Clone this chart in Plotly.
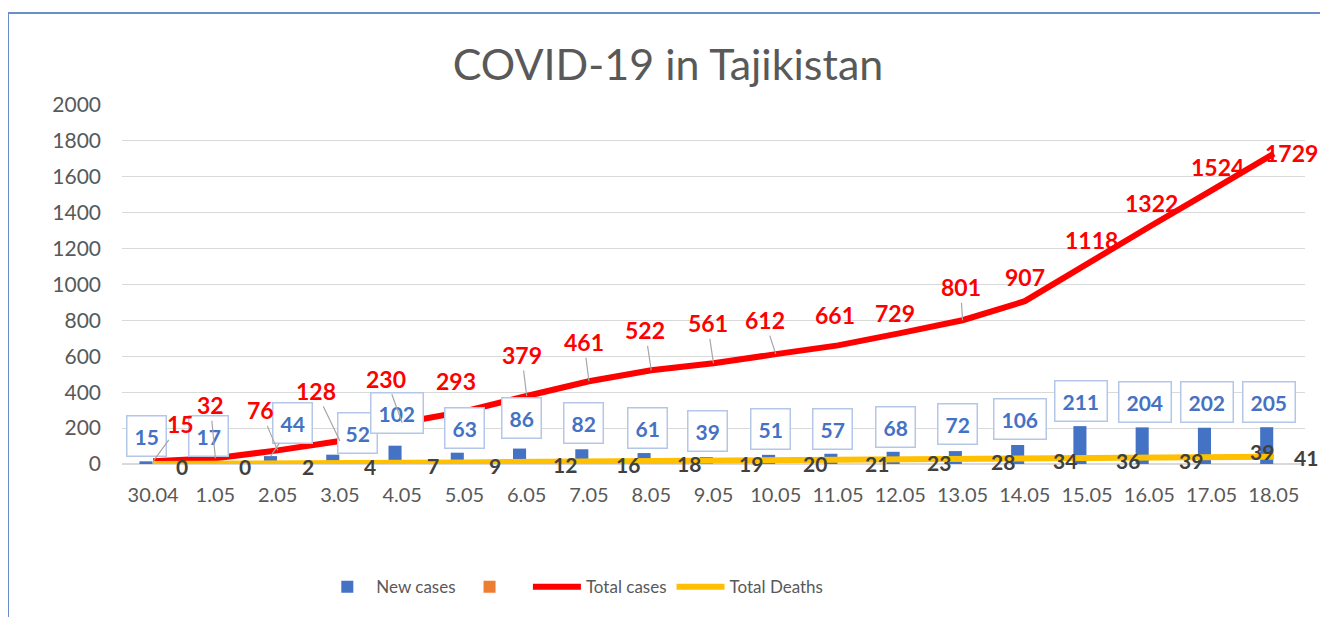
import plotly.graph_objects as go

# ---- data ----
dates = ["30.04", "1.05", "2.05", "3.05", "4.05", "5.05", "6.05", "7.05", "8.05", "9.05",
         "10.05", "11.05", "12.05", "13.05", "14.05", "15.05", "16.05", "17.05", "18.05"]
new_cases = [15, 17, 44, 52, 102, 63, 86, 82, 61, 39, 51, 57, 68, 72, 106, 211, 204, 202, 205]
total_cases = [15, 32, 76, 128, 230, 293, 379, 461, 522, 561, 612, 661, 729, 801, 907,
               1118, 1322, 1524, 1729]
total_deaths = [0, 0, 2, 4, 7, 9, 12, 16, 18, 19, 20, 21, 23, 28, 34, 36, 39, 39, 41]
unnamed_series = [None] * len(dates)   # the orange series shown only in the legend

y_ticks = [0, 200, 400, 600, 800, 1000, 1200, 1400, 1600, 1800, 2000]

# ---- label placement (pixel offsets, style only) ----
red_off = [(27, -37), (-5, -53), (-17, -40), (-24, -50), (-16, -44), (-8, -30), (-5, -41),
           (-5, -39), (-6, -40), (-6, -40), (-11, -34), (-3, -30), (-5, -20), (-2, -33),
           (0, -24), (4, -23), (2, -24), (6, -23), (18, -1)]
red_leader = [1, 1, 1, 1, 1, 0, 1, 1, 1, 1, 1, 0, 0, 1, 0, 0, 0, 0, 0]
blue_off = [(0, -25), (0, -25), (22, -33), (25, -22), (2, -33), (7, -25), (2, -31),
            (2, -26), (3, -25), (1, -26), (2, -26), (1, -25), (2, -25), (2, -27),
            (2, -26), (1, -25), (3, -25), (2, -26), (2, -25)]
blue_leader = [0, 0, 1, 0, 0, 0, 0, 0, 0, 0, 0, 0, 0, 0, 0, 0, 0, 0, 0]
death_off = [(29, 2), (30, 2), (30, 3), (30, 3), (31, 3), (31, 3), (38, 3), (39, 3),
             (38, 3), (37, 3), (39, 3), (39, 3), (39, 3), (40, 3), (40, 3), (41, 3),
             (42, 3), (50, -6), (32, 1)]

FONT = "Lato"
GRAY = "#595959"
W, H = 1320, 609          # page body has an 8px margin
PL, PR, PT, PB = 114, 23, 97, 153
PW, PH = W - PL - PR, H - PT - PB

fig = go.Figure()
fig.add_trace(go.Bar(x=dates, y=new_cases, name="New cases",
                     marker=dict(color="#4472C4", line=dict(width=0)),
                     width=0.21, offset=-0.22))
fig.add_trace(go.Bar(x=dates, y=unnamed_series, name=" ",
                     marker=dict(color="#ED7D31", line=dict(width=0))))
fig.add_trace(go.Scatter(x=dates, y=total_cases, name="Total cases", mode="lines",
                         line=dict(color="#FF0000", width=6)))
fig.add_trace(go.Scatter(x=dates, y=total_deaths, name="Total Deaths", mode="lines",
                         line=dict(color="#FFC000", width=6)))

annotations = []
# category positions are given by index (i) so date strings are not parsed as numbers
for i in range(len(dates)):
    ax, ay = blue_off[i]
    annotations.append(dict(
        x=i, y=new_cases[i], xref="x", yref="y", xshift=-7,
        text=f"<b>{new_cases[i]}</b>", showarrow=True, arrowhead=0, arrowwidth=1.2,
        arrowcolor="#A6A6A6" if blue_leader[i] else "rgba(0,0,0,0)",
        ax=ax, ay=ay, font=dict(family=FONT, size=21, color="#4472C4"),
        bgcolor="white", bordercolor="#B4C7E7", borderwidth=1.5, borderpad=7))
for i in range(len(dates)):
    ax, ay = red_off[i]
    annotations.append(dict(
        x=i, y=total_cases[i], xref="x", yref="y",
        text=f"<b>{total_cases[i]}</b>", showarrow=True, arrowhead=0, arrowwidth=1.2,
        arrowcolor="#A6A6A6" if red_leader[i] else "rgba(0,0,0,0)",
        ax=ax, ay=ay, font=dict(family=FONT, size=23, color="#FF0000")))
for i in range(len(dates)):
    ax, ay = death_off[i]
    annotations.append(dict(
        x=i, y=total_deaths[i], xref="x", yref="y",
        text=f"<b>{total_deaths[i]}</b>", showarrow=True, arrowhead=0,
        arrowcolor="rgba(0,0,0,0)", ax=ax, ay=ay,
        font=dict(family=FONT, size=21, color="#404040")))

fig.update_layout(
    width=W, height=H,
    margin=dict(l=PL, r=PR, t=PT, b=PB),
    paper_bgcolor="white", plot_bgcolor="white",
    font=dict(family=FONT, color=GRAY),
    title=dict(text="COVID-19 in Tajikistan", x=0.5, xanchor="center",
               y=1 - 57 / H, yref="container", yanchor="middle",
               font=dict(family=FONT, size=43, color=GRAY)),
    barmode="group", bargap=0.58,
    showlegend=True,
    legend=dict(orientation="h", x=0.3815, xanchor="center", y=-0.343, yanchor="middle",
                font=dict(family=FONT, size=17, color=GRAY), traceorder="normal",
                itemwidth=48),
    xaxis=dict(type="category", range=[-0.5, len(dates) - 0.5], showgrid=False,
               zeroline=False, showline=False, tickangle=0,
               tickfont=dict(family=FONT, size=20, color=GRAY), ticks="",
               ticklabelstandoff=17),
    yaxis=dict(range=[0, 2000], tickvals=y_ticks, showgrid=True, gridcolor="#D9D9D9",
               gridwidth=1, zeroline=True, zerolinecolor="#D9D9D9", showline=False,
               tickfont=dict(family=FONT, size=21, color=GRAY), ticks="",
               ticklabelstandoff=20),
    annotations=annotations,
    shapes=[dict(type="rect", xref="paper", yref="paper",
                 x0=(0 - PL) / PW, x1=(1317 - PL) / PW,
                 y0=-0.5, y1=(PT + PH - 5) / PH,
                 line=dict(color="#6A8FC8", width=2), fillcolor="rgba(0,0,0,0)",
                 layer="below")],
)

fig.write_html("out.html")
